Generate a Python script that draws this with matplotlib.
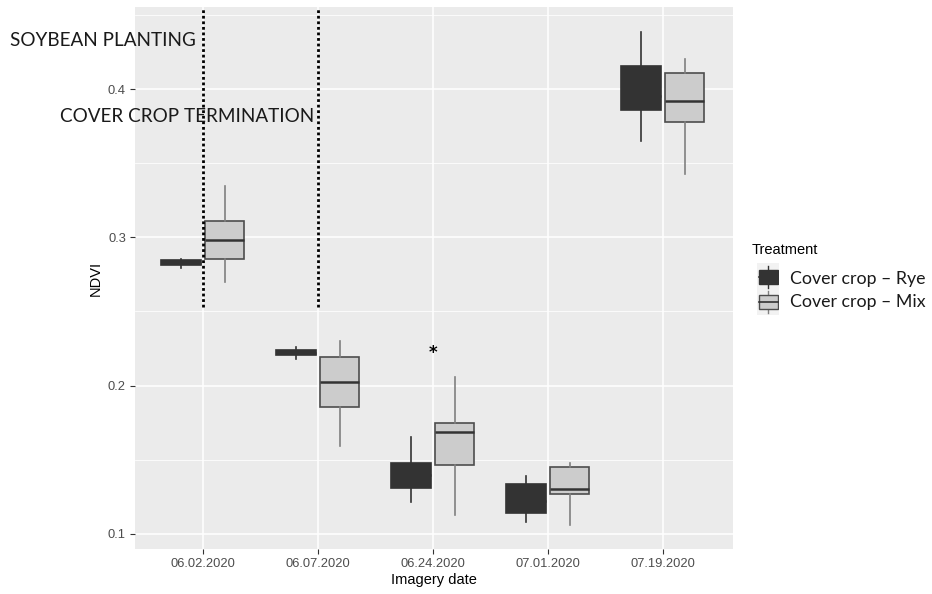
import numpy as np
import matplotlib
matplotlib.use("Agg")
import matplotlib.pyplot as plt
from matplotlib.patches import Rectangle

# imagery dates (x categories)
dates = ["06.02.2020", "06.07.2020", "06.24.2020", "07.01.2020", "07.19.2020"]
treatments = ["Cover crop \u2013 Rye", "Cover crop \u2013 Mix"]

# box statistics per date
rye_lo  = [0.2790, 0.2180, 0.1215, 0.1080, 0.3650]
rye_q1  = [0.2813, 0.2206, 0.1310, 0.1141, 0.3858]
rye_med = [0.2830, 0.2222, 0.1400, 0.1220, 0.3950]
rye_q3  = [0.2847, 0.2238, 0.1478, 0.1337, 0.4155]
rye_hi  = [0.2855, 0.2260, 0.1653, 0.1390, 0.4384]

mix_lo  = [0.2700, 0.1593, 0.1128, 0.1060, 0.3427]
mix_q1  = [0.2854, 0.1856, 0.1465, 0.1269, 0.3777]
mix_med = [0.2982, 0.2024, 0.1687, 0.1303, 0.3919]
mix_q3  = [0.3110, 0.2193, 0.1748, 0.1451, 0.4108]
mix_hi  = [0.3346, 0.2300, 0.2058, 0.1478, 0.4202]

# significance mark and event lines
star_date = 2
star_y = 0.222
event_dates = [0, 1]
event_ymin = 0.253

W, H = 932, 594
fig = plt.figure(figsize=(W / 100, H / 100), dpi=100)
ax = fig.add_axes([135 / W, 45 / H, 598 / W, 542 / H])
ax.set_facecolor("#EBEBEB")


def stats(lo, q1, med, q3, hi):
    return [dict(whislo=a, q1=b, med=c, q3=d, whishi=e, fliers=[])
            for a, b, c, d, e in zip(lo, q1, med, q3, hi)]


x = np.arange(len(dates))
off, bw = 0.19, 0.34

rye = ax.bxp(stats(rye_lo, rye_q1, rye_med, rye_q3, rye_hi), positions=x - off,
             widths=bw, patch_artist=True, showcaps=False, manage_ticks=False,
             boxprops=dict(facecolor="#333333", edgecolor="#333333", lw=1.2),
             whiskerprops=dict(color="#333333", lw=1.2),
             medianprops=dict(color="#333333", lw=1.8))
mix = ax.bxp(stats(mix_lo, mix_q1, mix_med, mix_q3, mix_hi), positions=x + off,
             widths=bw, patch_artist=True, showcaps=False, manage_ticks=False,
             boxprops=dict(facecolor="#CCCCCC", edgecolor="#4D4D4D", lw=1.2),
             whiskerprops=dict(color="#808080", lw=1.2),
             medianprops=dict(color="#333333", lw=1.8))
for d in (rye, mix):
    for art in d["boxes"] + d["whiskers"] + d["medians"]:
        art.set_zorder(3)

ax.set_xlim(-0.59, 4.61)
ax.set_ylim(0.0898, 0.4553)

ax.set_xticks(x)
ax.set_xticklabels(dates)
ax.set_yticks([0.1, 0.2, 0.3, 0.4])
ax.set_yticklabels(["0.1", "0.2", "0.3", "0.4"])
ax.set_yticks([0.15, 0.25, 0.35, 0.45], minor=True)
ax.grid(True, which="major", color="white", lw=1.1, zorder=0)
ax.grid(True, which="minor", axis="y", color="white", lw=0.55, zorder=0)
ax.set_axisbelow(True)
ax.tick_params(axis="both", which="major", length=3.5, width=0.8, color="#333333",
               labelcolor="#4D4D4D", labelsize=9.3, pad=3)
ax.tick_params(axis="both", which="minor", length=0)
for s in ax.spines.values():
    s.set_visible(False)
for lab in ax.get_xticklabels() + ax.get_yticklabels():
    lab.set_fontfamily("Liberation Sans")

ax.set_xlabel("Imagery date", fontsize=10.5, family="Liberation Sans", labelpad=2)
ax.set_ylabel("NDVI", fontsize=10.5, family="Liberation Sans", labelpad=4)

# event lines
ax.vlines(event_dates, event_ymin, 0.4553, colors="black", linestyles=(0, (1, 1)),
          lw=2.0, zorder=4)
ax.text(star_date, star_y, "*", ha="center", va="center", fontsize=12,
        family="DejaVu Sans", weight="bold", zorder=5)

# annotations
fig.text(10 / W, 1 - 41 / H, "SOYBEAN PLANTING", family="Lato", fontsize=13.6,
         ha="left", va="center", color="#1A1A1A")
fig.text(60 / W, 1 - 117 / H, "COVER CROP TERMINATION", family="Lato", fontsize=13.6,
         ha="left", va="center", color="#1A1A1A")

# legend
fig.text(752 / W, 1 - 250 / H, "Treatment", family="Liberation Sans", fontsize=10.5,
         ha="left", va="center")
lg = fig.add_axes([757 / W, 1 - 315 / H, 22 / W, 52 / H])
lg.set_xlim(0, 22)
lg.set_ylim(315, 263)
lg.axis("off")
lg.add_patch(Rectangle((0, 263), 22, 52, facecolor="#F2F2F2", edgecolor="none"))
key_y = [277, 302]
key_fc = ["#333333", "#CCCCCC"]
key_ec = ["#333333", "#4D4D4D"]
key_wc = ["#333333", "#808080"]
for ky, fc, ec, wc in zip(key_y, key_fc, key_ec, key_wc):
    lg.plot([11, 11], [ky - 11, ky + 11], color=wc, lw=1.0)
    lg.add_patch(Rectangle((1.5, ky - 7), 19, 14, facecolor=fc, edgecolor=ec, lw=1.0, zorder=3))
    lg.plot([1.5, 20.5], [ky, ky], color="#333333", lw=1.2, zorder=4)
for ky, t in zip([279, 302], treatments):
    fig.text(790 / W, 1 - ky / H, t, family="Lato", fontsize=12.8, ha="left",
             va="center", color="#1A1A1A")

fig.savefig("out.png", dpi=100, facecolor="white")
